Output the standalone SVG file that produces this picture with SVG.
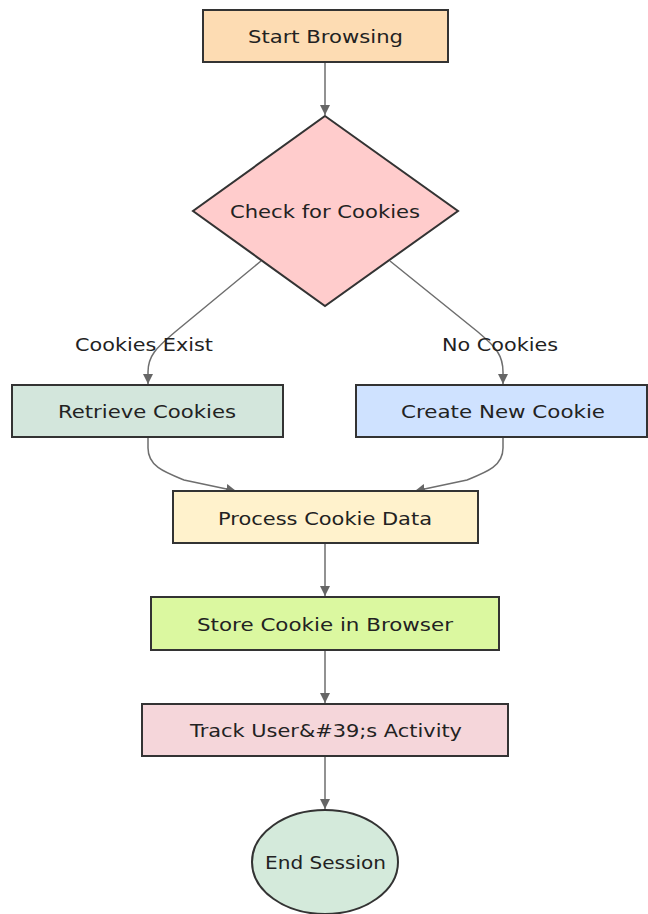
<svg xmlns="http://www.w3.org/2000/svg" width="648" height="914" viewBox="0 0 648 914">
<defs>
<style>
.node{stroke:#333;stroke-width:2}
.lbl{font-family:"DejaVu Sans","Liberation Sans",sans-serif;font-size:17px;fill:#222;text-anchor:middle;dominant-baseline:central}
.edge{fill:none;stroke:#6e6e6e;stroke-width:1.5}
</style>
<marker id="arr" viewBox="0 0 10 10" refX="10" refY="5" markerWidth="10" markerHeight="10" markerUnits="userSpaceOnUse" orient="auto">
<path d="M0,0 L10,5 L0,10 z" fill="#666"/>
</marker>
</defs>
<rect width="648" height="914" fill="#fff"/>
<g id="connectors">
<path class="edge" d="M325,62 L325,115" marker-end="url(#arr)"/>
<path class="edge" d="M261,261 L175,332 C156,348 148,356 148,372 L148,384" marker-end="url(#arr)"/>
<path class="edge" d="M390,261 L478,332 C497,348 503,356 503,372 L503,384" marker-end="url(#arr)"/>
<path class="edge" d="M148,437 L148,448 C148,466 164,472 184,480 L236,491" marker-end="url(#arr)"/>
<path class="edge" d="M503,437 L503,448 C503,466 487,472 467,480 L415,491" marker-end="url(#arr)"/>
<path class="edge" d="M325,543 L325,596" marker-end="url(#arr)"/>
<path class="edge" d="M325,650 L325,703" marker-end="url(#arr)"/>
<path class="edge" d="M325,756 L325,809" marker-end="url(#arr)"/>
</g>
<g id="label-cookies-exist"><text class="lbl" x="144" y="345" textLength="138" lengthAdjust="spacingAndGlyphs">Cookies Exist</text></g>
<g id="label-no-cookies"><text class="lbl" x="500" y="345" textLength="116" lengthAdjust="spacingAndGlyphs">No Cookies</text></g>
<g id="start">
<rect class="node" x="203" y="10" width="245" height="52" fill="#fddcb3"/>
<text class="lbl" x="325.5" y="37" textLength="155" lengthAdjust="spacingAndGlyphs">Start Browsing</text>
</g>
<g id="check">
<polygon class="node" points="325,116 458,211 325,306 193,211" fill="#ffcccc"/>
<text class="lbl" x="325" y="212" textLength="190" lengthAdjust="spacingAndGlyphs">Check for Cookies</text>
</g>
<g id="retrieve">
<rect class="node" x="12" y="385" width="271" height="52" fill="#d3e6dc"/>
<text class="lbl" x="147" y="412" textLength="178" lengthAdjust="spacingAndGlyphs">Retrieve Cookies</text>
</g>
<g id="create">
<rect class="node" x="356" y="385" width="291" height="52" fill="#cfe2ff"/>
<text class="lbl" x="503" y="412" textLength="204" lengthAdjust="spacingAndGlyphs">Create New Cookie</text>
</g>
<g id="process">
<rect class="node" x="173" y="491" width="305" height="52" fill="#fff2cc"/>
<text class="lbl" x="325" y="519" textLength="214" lengthAdjust="spacingAndGlyphs">Process Cookie Data</text>
</g>
<g id="store">
<rect class="node" x="151" y="597" width="348" height="53" fill="#dbf8a0"/>
<text class="lbl" x="325" y="625" textLength="256" lengthAdjust="spacingAndGlyphs">Store Cookie in Browser</text>
</g>
<g id="track">
<rect class="node" x="142" y="704" width="366" height="52" fill="#f5d6da"/>
<text class="lbl" x="326" y="731" textLength="272" lengthAdjust="spacingAndGlyphs">Track User&amp;#39;s Activity</text>
</g>
<g id="end">
<ellipse class="node" cx="325" cy="862" rx="73" ry="52" fill="#d4eadb"/>
<text class="lbl" x="325.5" y="863" textLength="121" lengthAdjust="spacingAndGlyphs">End Session</text>
</g>
</svg>
